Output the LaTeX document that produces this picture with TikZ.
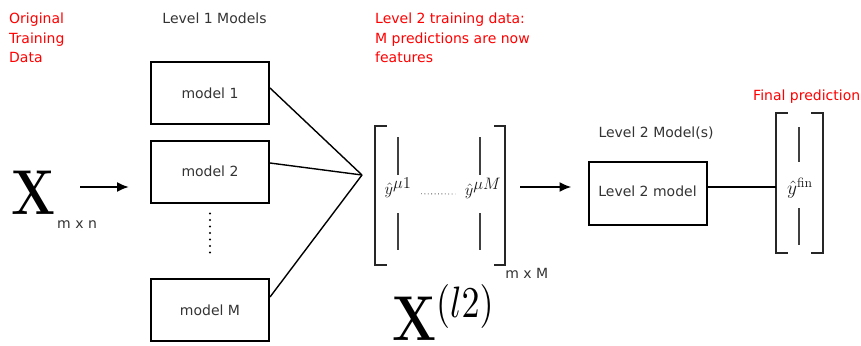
\documentclass[tikz,border=0pt]{standalone}
\usepackage{amsmath}
\usepackage{amssymb}
\usepackage[no-math]{fontspec}
\setmainfont{DejaVu Sans}
\usepackage{tikz}
\usetikzlibrary{arrows, arrows.meta}

\begin{document}
\begin{tikzpicture}[x=1pt, y=-1pt, font=\fontsize{14}{19.5}\selectfont,
        box/.style={draw, line width=2pt, minimum width=118pt, minimum height=62pt, text=black!80},
        note/.style={text=red, align=left, anchor=north west, inner sep=0pt},
        title/.style={text=black!80, anchor=base, inner sep=0pt},
        dims/.style={text=black!80, anchor=base west, inner sep=0pt},
        big/.style={inner sep=0pt},
        entry/.style={text=black!90},
        bar/.style={line width=1.2pt, black!75},
        bracket/.style={line width=2pt, black!85},
        arrow/.style={-{Latex[length=12pt, width=10pt]}, line width=2pt}]
        \useasboundingbox (0, 0) rectangle (861, 345);
        \coordinate (row) at (0, 187);
        % Texts
        \node [note] at (9, 13) {Original\\Training\\Data};
        \node [note] at (375, 13) {Level 2 training data:\\M predictions are now\\features};
        \node [text=red, anchor=base west, inner sep=0pt] at (753, 100) {Final prediction};
        \node [title] at (214.5, 24) {Level 1 Models};
        \node [title] at (656, 137) {Level 2 Model(s)};
        % Input
        \node [big, anchor=base east] (xin) at (56, 214) {\scalebox{3.6}[4.4]{$\mathbf{X}$}};
        \node [dims] at ([xshift=1pt, yshift=-14pt]xin.base east) {m x n};
        % Level 1 models
        \node [box] (m1) at (210, 93) {model 1};
        \node [box] (m2) at (210, 171.5) {model 2};
        \node [box] (mM) at (210, 310) {model M};
        \draw [line width=2.3pt, line cap=round, dash pattern=on 0pt off 6.5pt, shorten <=10pt, shorten >=20pt] (m2.south) -- (mM.north);
        \draw [arrow, shorten <=24pt, shorten >=21pt] (xin.east |- row) -- (m2.west |- row);
        \coordinate (hub) at (362, 175);
        \draw [line width=1.4pt] ([yshift=5pt]m1.east) -- (hub);
        \draw [line width=1.4pt] ([yshift=8.5pt]m2.east) -- (hub);
        \draw [line width=1.4pt] ([yshift=13pt]mM.east) -- (hub);
        % Level 2 training data
        \node [minimum width=130pt, minimum height=139pt, inner sep=0pt] (feat) at (440, 195.5) {};
        \draw [bracket] ([xshift=12pt]feat.north west) -- (feat.north west) -- (feat.south west) -- ++(12, 0);
        \draw [bracket] ([xshift=-11pt]feat.north east) -- (feat.north east) -- (feat.south east) -- ++(-11, 0);
        \node [entry] (y1) at (398, 188) {\scalebox{1.15}{$\hat{y}^{\textstyle\mu 1}$}};
        \node [entry] (yM) at (483, 188) {\scalebox{1.15}{$\hat{y}^{\textstyle\mu M}$}};
        \draw [line width=0.9pt, black!65, dash pattern=on 0.9pt off 2.5pt, shorten <=6pt, shorten >=6pt] ([yshift=1pt]y1.base east) -- ([yshift=1pt]yM.base west);
        \draw [bar] (y1.center) ++(0, -51) -- ++(0, 38);
        \draw [bar] (y1.center) ++(0, 25) -- ++(0, 37);
        \draw [bar] (yM.center) ++(-3, -51) -- ++(0, 38);
        \draw [bar] (yM.center) ++(-3, 25) -- ++(0, 37);
        \node [dims] at ([yshift=-13pt]feat.south east) {m x M};
        \node [big, anchor=base west] (xl2) at (392, 340) {\scalebox{3.6}[4.4]{$\mathbf{X}^{(l2)}$}};
        % Level 2 model
        \node [box, minimum height=63pt] (l2) at (647.5, 193.5) {\raisebox{5pt}{Level 2 model}};
        \draw [arrow, shorten <=15pt, shorten >=16pt] (feat.east |- row) -- (l2.west |- row);
        % Final prediction
        \node [minimum width=47pt, minimum height=140pt, inner sep=0pt] (finvec) at (799.5, 183) {};
        \draw [bracket] ([xshift=12pt]finvec.north west) -- (finvec.north west) -- (finvec.south west) -- ++(12, 0);
        \draw [bracket] ([xshift=-12pt]finvec.north east) -- (finvec.north east) -- (finvec.south east) -- ++(-12, 0);
        \node [entry] (fin) at (800, 188) {\scalebox{1.35}{$\hat{y}^{\mathrm{fin}}$}};
        \draw [bar] (fin.center) ++(-1, -61) -- ++(0, 35);
        \draw [bar] (fin.center) ++(-1, 20) -- ++(0, 37);
        \draw [line width=1.4pt] (l2.east |- row) -- (finvec.west |- row);
    \end{tikzpicture}
\end{document}
